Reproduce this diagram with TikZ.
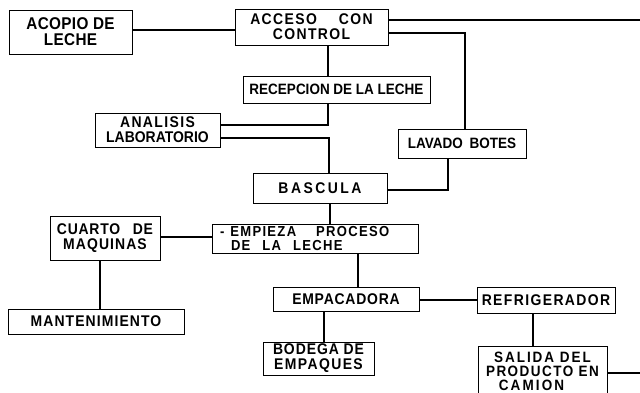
\documentclass[tikz,border=0pt]{standalone}
\usepackage{fontspec}
\setmainfont{Liberation Sans}[FakeStretch=0.9]
\newcommand{\lsp}[2]{{\addfontfeature{LetterSpace=#1}#2}}
\tikzset{
  box/.style={draw=black, line width=0.8pt, rectangle, inner sep=0pt, align=center,
    font=\bfseries\fontsize{15.5}{15}\selectfont},
  link/.style={draw=black, line width=1.4pt}
}
\begin{document}
\begin{tikzpicture}[x=1pt, y=-1pt]
\useasboundingbox (0,0) rectangle (640,392);
\fill[white] (0,0) rectangle (640,392);
\clip (0,0) rectangle (640,392);

% boxes
\node[box, minimum width=123pt, minimum height=44pt, font=\bfseries\fontsize{17}{16}\selectfont] (acopio) at (70.5,32) {\lsp{2}{ACOPIO DE}\\\lsp{2}{LECHE}};
\node[box, minimum width=153pt, minimum height=36pt] (acceso) at (311.5,27) {\lsp{9}{ACCESO\hspace{22pt}CON}\\\lsp{9}{CONTROL}};
\node[box, minimum width=187pt, minimum height=27pt, font=\bfseries\fontsize{15}{15}\selectfont] (recep) at (336.5,89.5) {RECEPCION DE LA LECHE};
\node[box, minimum width=125pt, minimum height=34pt] (analisis) at (157.5,130) {\lsp{9}{ANALISIS}\\LABORATORIO};
\node[box, minimum width=128pt, minimum height=29pt, font=\bfseries\fontsize{15}{15}\selectfont] (lavado) at (462,143.5) {LAVADO\hspace{3pt} BOTES};
\node[box, minimum width=134pt, minimum height=30pt] (bascula) at (320,188) {\lsp{16}{BASCULA}};
\node[box, minimum width=206pt, minimum height=29pt, text width=190pt, align=left, font=\bfseries\fontsize{14.5}{14}\selectfont] (empieza) at (315,238.5) {\lsp{9}{-\hspace{6pt}EMPIEZA\hspace{20pt}PROCESO}\\\hspace*{11pt}\lsp{9}{DE\hspace{12pt}LA\hspace{12pt}LECHE}};
\node[box, minimum width=110pt, minimum height=44pt] (cuarto) at (105,238) {\lsp{5}{CUARTO\hspace{8pt} DE}\\\lsp{7}{MAQUINAS}};
\node[box, minimum width=176pt, minimum height=25pt] (mant) at (96,321.5) {\lsp{7}{MANTENIMIENTO}};
\node[box, minimum width=146pt, minimum height=24pt] (empac) at (346,299) {\lsp{5}{EMPACADORA}};
\node[box, minimum width=138pt, minimum height=26pt] (refri) at (546,300) {\lsp{9}{REFRIGERADOR}};
\node[box, minimum width=111pt, minimum height=33pt] (bodega) at (318.5,358.5) {\lsp{6}{BODEGA DE}\\\lsp{9}{EMPAQUES}};
\node[box, minimum width=129pt, minimum height=49pt, anchor=north, font=\bfseries\fontsize{15}{14}\selectfont] (salida) at (542.5,346) {\lsp{13}{SALIDA DEL}\\\lsp{10}{PRODUCTO EN}\\\lsp{14}{CAMION}\hspace*{22pt}};

% free ends
\coordinate (outA) at (640,20);
\coordinate (outB) at (640,373);

% connectors
\draw[link] (acopio.east |- 0,30) -- (acceso.west |- 0,30);
\draw[link] (acceso.east |- 0,20) -- (outA);
\draw[link] (acceso.east |- 0,33) -| (lavado.north -| 465,0);
\draw[link] (acceso.south -| 328,0) -- (recep.north -| 328,0);
\draw[link] (recep.south -| 328,0) |- (analisis.east |- 0,125);
\draw[link] (analisis.east |- 0,138) -| (bascula.north -| 329,0);
\draw[link] (lavado.south -| 448,0) |- (bascula.east |- 0,190);
\draw[link] (bascula.south -| 330,0) -- (empieza.north -| 330,0);
\draw[link] (cuarto.east |- 0,237) -- (empieza.west |- 0,237);
\draw[link] (cuarto.south -| 100,0) -- (mant.north -| 100,0);
\draw[link] (empieza.south -| 358,0) -- (empac.north -| 358,0);
\draw[link] (empac.east |- 0,300) -- (refri.west |- 0,300);
\draw[link] (empac.south -| 324,0) -- (bodega.north -| 324,0);
\draw[link] (refri.south -| 533,0) -- (salida.north -| 533,0);
\draw[link] (salida.east |- 0,373) -- (outB);
\end{tikzpicture}
\end{document}
